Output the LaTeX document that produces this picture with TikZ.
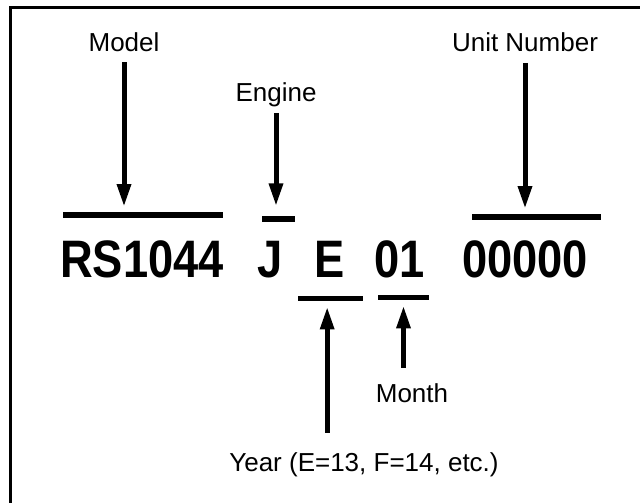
\documentclass[tikz,border=0pt]{standalone}
\usepackage{graphicx}
\usepackage{fontspec}
\setmainfont{Liberation Sans}
\usetikzlibrary{arrows.meta, positioning}

\begin{document}
\begin{tikzpicture}[
  x=0.75pt, y=-0.75pt,
  lbl/.style={font=\fontsize{19.5}{23}\selectfont, inner sep=0pt,
    text height=14pt, text depth=0pt, anchor=base},
  code/.style={font=\fontsize{35}{42}\selectfont\bfseries, inner sep=0pt,
    anchor=base},
  bar/.style={fill=black, inner sep=0pt, minimum height=4pt},
  arr/.style={line width=3.75pt, -{Triangle[length=17pt, width=10pt]},
    shorten >=4pt},
]
  \useasboundingbox (0,0) rectangle (640,503);

  % Frame (only top and left edges show)
  \draw[line width=2.25pt] (640,7.5) -| (10.5,503);

  % Serial number parts
  \foreach \name/\x/\txt in {model/142/RS1044, engine/270/J, year/330/E,
    month/400/01, unit/525/00000} {
    \node[code] (c\name) at (\x,277) {\scalebox{0.97}[1.13]{\txt}};
  }

  % Bars
  \foreach \name/\x/\y/\w in {model/143/215/120pt, engine/278/219/24.75pt,
    unit/536/217/96.75pt, year/330.5/298.5/48.75pt,
    month/403.5/297.5/38.25pt} {
    \node[bar, minimum width=\w] (b\name) at (\x,\y) {};
  }

  % Labels
  \node[lbl] (lmodel) at (124,52) {Model};
  \node[lbl] (lengine) at (276,102) {Engine};
  \node[lbl] (lunit) at (525,52) {Unit Number};
  \node[lbl] (lmonth) at (412,402) {Month};
  \node[lbl] (lyear) at (364,471) {Year (E=13, F=14, etc.)};
  \coordinate (yeartip) at ([xshift=-2.5pt]byear.south);

  % Arrows
  \draw[arr, shorten <=7.5pt] (lmodel.south) -- (lmodel.south |- bmodel.north);
  \draw[arr, shorten <=8pt, shorten >=7.5pt]
    (lengine.south) -- (lengine.south |- bengine.north);
  \draw[arr, shorten <=8pt] (lunit.south) -- (lunit.south |- bunit.north);
  \draw[arr, shorten <=14.5pt] (yeartip |- lyear.north) -- (yeartip);
  \draw[arr, shorten <=11.5pt] (bmonth.south |- lmonth.north) -- (bmonth.south);
\end{tikzpicture}
\end{document}
